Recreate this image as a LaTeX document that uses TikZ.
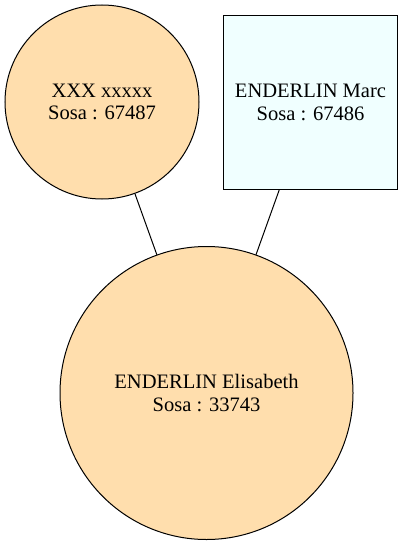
\documentclass[tikz,border=0pt]{standalone}
\usepackage{fontspec}
\setmainfont{Liberation Serif}
\usepackage{tikz}

\definecolor{sosawoman}{HTML}{FFDEAD}
\definecolor{sosaman}{HTML}{F0FFFF}

\tikzset{
  sosa/.style={draw=black, line width=0.75pt, inner sep=0pt, align=center,
    font=\fontsize{15.4}{16.8}\selectfont},
  woman/.style={sosa, circle, fill=sosawoman},
  man/.style={sosa, rectangle, fill=sosaman, minimum width=130pt, minimum height=130pt}
}

\begin{document}
\begin{tikzpicture}[x=0.75pt, y=-0.75pt]
\useasboundingbox (0,0) rectangle (402,545);
\path (102,102) node[woman, minimum size=145.5pt] (s67487) {XXX xxxxx\\Sosa : 67487}
		(310.5,102.5) node[man] (s67486) {ENDERLIN Marc\\Sosa : 67486}
		(206.5,393) node[woman, minimum size=219.75pt] (s33743) {ENDERLIN Elisabeth\\Sosa : 33743}
		;

\draw[line width=0.75pt] (node cs:name=s67487) -- (node cs:name=s33743);
\draw[line width=0.75pt] (node cs:name=s67486) -- (node cs:name=s33743);
\end{tikzpicture}
\end{document}
